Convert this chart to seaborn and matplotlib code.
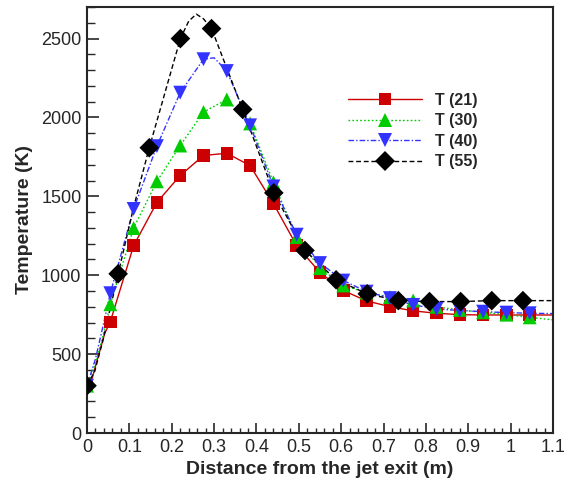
import numpy as np
import pandas as pd
import seaborn as sns
import matplotlib
matplotlib.use("Agg")
import matplotlib.pyplot as plt
from matplotlib.lines import Line2D
from matplotlib.ticker import MultipleLocator, FuncFormatter

# marker positions
x_mk = [0, 0.055, 0.11, 0.165, 0.22, 0.275, 0.33, 0.385, 0.44, 0.495,
        0.55, 0.605, 0.66, 0.715, 0.77, 0.825, 0.88, 0.935, 0.99, 1.045]
t21_mk = [300, 705, 1187, 1462, 1632, 1759, 1773, 1695, 1454, 1187,
          1017, 903, 837, 801, 774, 759, 750, 748, 748, 748]
t30_mk = [300, 816, 1299, 1595, 1822, 2034, 2114, 1962, 1589, 1242,
          1045, 935, 890, 862, 840, 800, 780, 765, 750, 733]
t40_mk = [300, 886, 1420, 1818, 2157, 2369, 2294, 1950, 1563, 1257,
          1077, 966, 896, 855, 812, 787, 776, 769, 763, 759]
x55_mk = [0, 0.0735, 0.147, 0.2205, 0.294, 0.3675, 0.441, 0.5145,
          0.588, 0.6615, 0.735, 0.8085, 0.882, 0.9555, 1.029]
t55_mk = [300, 1009, 1808, 2500, 2563, 2051, 1522, 1157,
          971, 882, 839, 833, 833, 839, 839]

# extra points the curves pass through between markers
t21_extra_x = [0.011, 0.024, 0.042, 1.1]
t21_extra = [335, 462, 632, 748]
t30_extra_x = [0.02, 0.038, 1.1]
t30_extra = [440, 620, 717]
t40_extra_x = [0.02, 0.038, 0.30, 1.1]
t40_extra = [470, 680, 2378, 757]
t55_extra_x = [0.018, 0.037, 0.11, 0.24, 0.258, 0.275, 1.1]
t55_extra = [390, 580, 1430, 2610, 2655, 2625, 839]

labels = ["T (21)", "T (30)", "T (40)", "T (55)"]
colors = ["#CC0000", "#00CC00", "#3333FF", "black"]
markers = ["s", "^", "v", "D"]
msizes = [9, 10, 10, 10]
dashes = ["-", (0, (1.2, 1.6)), (0, (4, 1.5, 1, 1.5)), (0, (3.5, 2))]

series = [
    (x_mk, t21_mk, t21_extra_x, t21_extra),
    (x_mk, t30_mk, t30_extra_x, t30_extra),
    (x_mk, t40_mk, t40_extra_x, t40_extra),
    (x55_mk, t55_mk, t55_extra_x, t55_extra),
]

sns.set_style("ticks")
plt.rcParams["font.family"] = ["Liberation Sans", "DejaVu Sans"]

fig = plt.figure(figsize=(5.66, 4.91), dpi=100)
ax = fig.add_axes([87 / 566, 1 - 433 / 491, 466 / 566, 426 / 491])

handles = []
for (xm, tm, xe, te), lab, c, m, ms, ls in zip(series, labels, colors, markers, msizes, dashes):
    line_df = pd.DataFrame({"x": list(xm) + list(xe), "T": list(tm) + list(te)}).sort_values("x")
    sns.lineplot(data=line_df, x="x", y="T", ax=ax, color=c, linestyle=ls,
                 linewidth=1.0, sort=False, estimator=None)
    mk_df = pd.DataFrame({"x": xm, "T": tm})
    sns.scatterplot(data=mk_df, x="x", y="T", ax=ax, color=c, marker=m,
                    s=ms ** 2, edgecolor="none", zorder=3)
    handles.append(Line2D([], [], color=c, linestyle=ls, linewidth=1.0,
                          marker=m, markersize=ms, markeredgewidth=0))

ax.set_xlim(0, 1.1)
ax.set_ylim(0, 2700)
ax.xaxis.set_major_locator(MultipleLocator(0.1))
ax.xaxis.set_minor_locator(MultipleLocator(0.02))
ax.yaxis.set_major_locator(MultipleLocator(500))
ax.yaxis.set_minor_locator(MultipleLocator(100))
ax.xaxis.set_major_formatter(FuncFormatter(lambda v, p: f"{v:.1f}".rstrip("0").rstrip(".")))
ax.tick_params(axis="x", which="major", direction="in", length=7, width=1.2, labelsize=13, pad=4)
ax.tick_params(axis="x", which="minor", direction="in", length=3.5, width=1.0)
ax.tick_params(axis="y", which="major", direction="in", length=8.5, width=1.2, labelsize=13, pad=4)
ax.tick_params(axis="y", which="minor", direction="in", length=5.5, width=1.0)
for sp in ax.spines.values():
    sp.set_visible(True)
    sp.set_linewidth(1.5)

ax.set_xlabel("Distance from the jet exit (m)", fontsize=14, fontweight="bold", labelpad=4)
ax.set_ylabel("Temperature (K)", fontsize=14, fontweight="bold", labelpad=6)

leg = ax.legend(handles, labels, loc="upper left", bbox_to_anchor=(0.529, 0.833),
                frameon=False, handlelength=4.65, handletextpad=0.8, labelspacing=0.35,
                prop={"weight": "bold", "size": 11.5})

fig.savefig("out.png", dpi=100)
